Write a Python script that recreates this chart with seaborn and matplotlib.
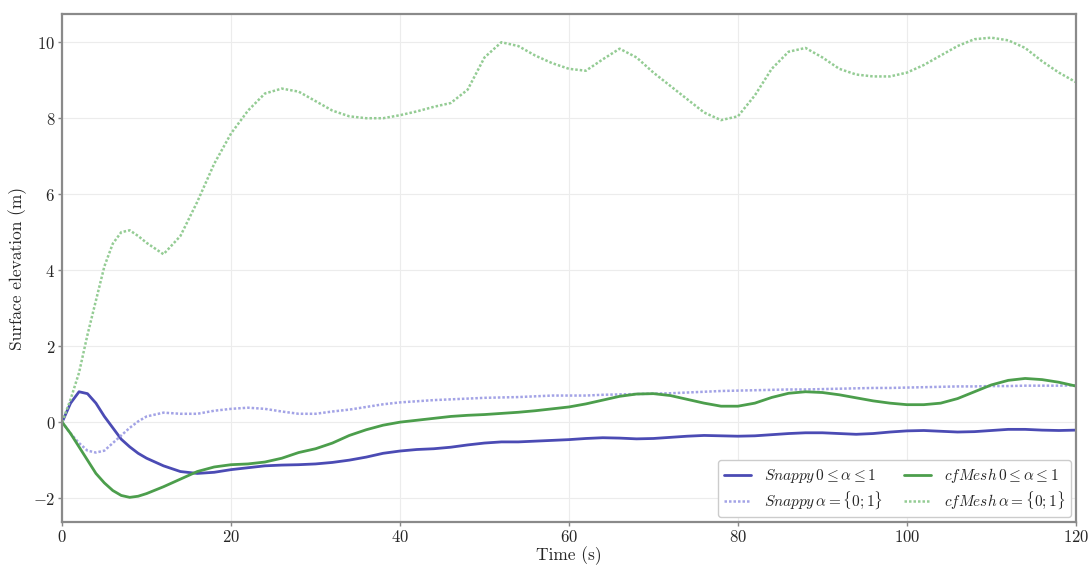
import matplotlib
matplotlib.use("Agg")
import matplotlib.pyplot as plt
import seaborn as sns

# time axis (s)
time = [0, 1, 2, 3, 4, 5, 6, 7, 8, 9, 10,
        12, 14, 16, 18, 20, 22, 24, 26, 28, 30,
        32, 34, 36, 38, 40, 42, 44, 46, 48, 50,
        52, 54, 56, 58, 60, 62, 64, 66, 68, 70,
        72, 74, 76, 78, 80, 82, 84, 86, 88, 90,
        92, 94, 96, 98, 100, 102, 104, 106, 108, 110,
        112, 114, 116, 118, 120]

# Snappy, 0 <= alpha <= 1
snappy_cont = [0, 0.5, 0.8, 0.75, 0.5, 0.15, -0.15, -0.45, -0.65, -0.82, -0.95,
               -1.15, -1.3, -1.35, -1.32, -1.25, -1.2, -1.15, -1.13, -1.12, -1.1,
               -1.06, -1.0, -0.92, -0.82, -0.76, -0.72, -0.7, -0.66, -0.6, -0.55,
               -0.52, -0.52, -0.5, -0.48, -0.46, -0.43, -0.41, -0.42, -0.44, -0.43,
               -0.4, -0.37, -0.35, -0.36, -0.37, -0.36, -0.33, -0.3, -0.28, -0.28,
               -0.3, -0.32, -0.3, -0.26, -0.23, -0.22, -0.24, -0.26, -0.25, -0.22,
               -0.19, -0.19, -0.21, -0.22, -0.21]

# Snappy, alpha = {0;1}
snappy_sharp = [0, -0.3, -0.55, -0.75, -0.8, -0.75, -0.55, -0.35, -0.15, 0.02, 0.15,
                0.25, 0.22, 0.22, 0.3, 0.35, 0.38, 0.35, 0.28, 0.22, 0.22,
                0.28, 0.33, 0.4, 0.47, 0.52, 0.55, 0.58, 0.6, 0.62, 0.64,
                0.65, 0.66, 0.68, 0.7, 0.7, 0.7, 0.72, 0.73, 0.74, 0.75,
                0.76, 0.78, 0.8, 0.82, 0.83, 0.84, 0.85, 0.86, 0.86, 0.87,
                0.88, 0.89, 0.9, 0.9, 0.91, 0.92, 0.93, 0.94, 0.94, 0.95,
                0.95, 0.96, 0.96, 0.96, 0.97]

# cfMesh, 0 <= alpha <= 1
cfmesh_cont = [0, -0.3, -0.65, -1.0, -1.35, -1.6, -1.8, -1.93, -1.98, -1.95, -1.88,
               -1.7, -1.5, -1.3, -1.18, -1.12, -1.1, -1.05, -0.95, -0.8, -0.7,
               -0.55, -0.35, -0.2, -0.08, 0.0, 0.05, 0.1, 0.15, 0.18, 0.2,
               0.23, 0.26, 0.3, 0.35, 0.4, 0.48, 0.58, 0.68, 0.74, 0.75,
               0.7, 0.6, 0.5, 0.42, 0.42, 0.5, 0.65, 0.76, 0.8, 0.78,
               0.72, 0.64, 0.56, 0.5, 0.46, 0.46, 0.5, 0.62, 0.8, 0.98,
               1.1, 1.15, 1.12, 1.05, 0.95]

# cfMesh, alpha = {0;1}
cfmesh_sharp = [0, 0.6, 1.3, 2.3, 3.2, 4.1, 4.7, 5.0, 5.05, 4.9, 4.72,
                4.42, 4.9, 5.8, 6.8, 7.6, 8.2, 8.65, 8.78, 8.7, 8.45,
                8.2, 8.05, 8.0, 8.0, 8.08, 8.18, 8.3, 8.4, 8.75, 9.6,
                10.0, 9.9, 9.65, 9.45, 9.3, 9.25, 9.55, 9.83, 9.6, 9.2,
                8.85, 8.5, 8.15, 7.95, 8.05, 8.6, 9.3, 9.75, 9.85, 9.6,
                9.3, 9.15, 9.1, 9.1, 9.2, 9.4, 9.65, 9.9, 10.08, 10.12,
                10.05, 9.85, 9.5, 9.2, 8.95]

labels = [r"$Snappy\,0 \leq \alpha \leq 1$",
          r"$Snappy\,\alpha = \{0;1\}$",
          r"$cfMesh\,0 \leq \alpha \leq 1$",
          r"$cfMesh\,\alpha = \{0;1\}$"]

sns.set_style("whitegrid")
plt.rcParams["font.family"] = ["cmr10", "DejaVu Serif"]
plt.rcParams["mathtext.fontset"] = "cm"
plt.rcParams["axes.formatter.use_mathtext"] = True
plt.rcParams["axes.unicode_minus"] = True

fig = plt.figure(figsize=(10.9, 5.65), dpi=100)
ax = fig.add_axes([0.057, 0.076, 0.930, 0.899])

dots = (0, (1, 0.8))
# solid lines first, then dotted, to keep the legend column order
sns.lineplot(x=time, y=snappy_cont, ax=ax, color="#4b4bb4", lw=2.0, label=labels[0])
sns.lineplot(x=time, y=snappy_sharp, ax=ax, color="#a3a3e6", lw=1.8,
             linestyle=dots, label=labels[1])
sns.lineplot(x=time, y=cfmesh_cont, ax=ax, color="#4c9e4c", lw=2.0, label=labels[2])
sns.lineplot(x=time, y=cfmesh_sharp, ax=ax, color="#94cc94", lw=1.8,
             linestyle=dots, label=labels[3])

ax.set_xlim(0, 120)
ax.set_ylim(-2.63, 10.74)
ax.set_xticks([0, 20, 40, 60, 80, 100, 120])
ax.set_yticks([-2, 0, 2, 4, 6, 8, 10])
ax.set_xlabel("Time (s)", fontsize=12.5, labelpad=1)
ax.set_ylabel("Surface elevation (m)", fontsize=12.5, labelpad=4)
ax.tick_params(labelsize=12, length=3, width=1, color="#888888", pad=2)
ax.tick_params(axis="x", bottom=True)
ax.tick_params(axis="y", left=True)

ax.grid(True, color="#ececec", lw=0.8)
for sp in ax.spines.values():
    sp.set_color("#8a8a8a")
    sp.set_linewidth(1.6)

ax.legend(loc="lower right", ncol=2, fontsize=11, frameon=True,
          edgecolor="#cccccc", framealpha=1.0, handlelength=1.8,
          columnspacing=1.4, borderaxespad=0.3, labelspacing=0.3)

fig.savefig("out.png", dpi=100)
